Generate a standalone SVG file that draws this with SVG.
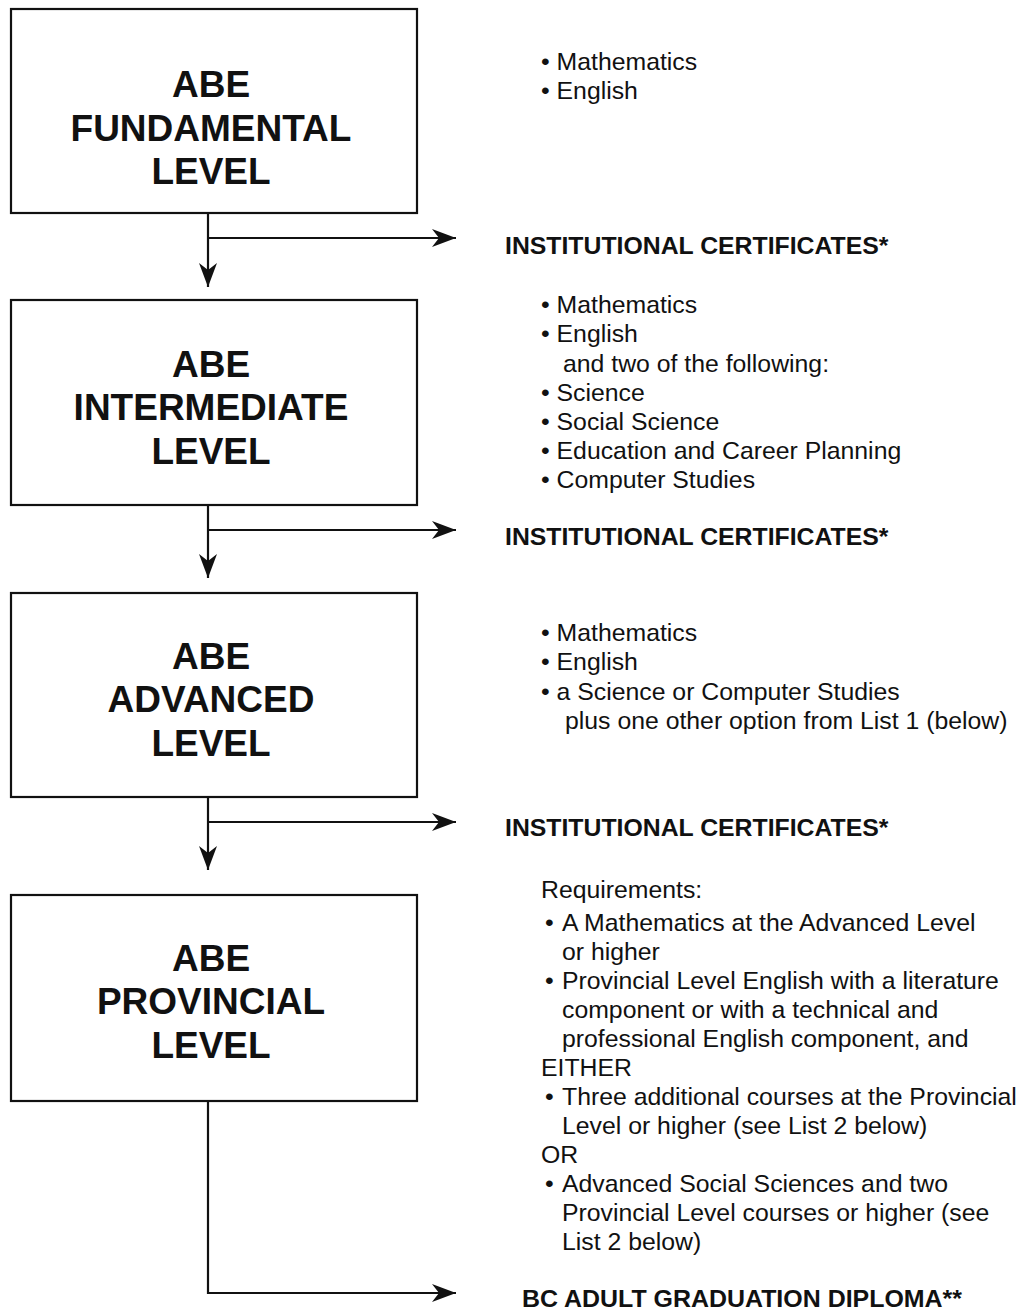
<svg xmlns="http://www.w3.org/2000/svg" width="1019" height="1312" viewBox="0 0 1019 1312">
<style>
.box{fill:#fff;stroke:#111;stroke-width:2.2}
.title{font-family:"Liberation Sans",Arial,sans-serif;font-weight:bold;font-size:37px;fill:#111;text-anchor:middle}
.item{font-family:"Liberation Sans",Arial,sans-serif;font-size:24.8px;fill:#111}
.cert{font-family:"Liberation Sans",Arial,sans-serif;font-weight:bold;font-size:24.8px;fill:#111}
.line{fill:none;stroke:#111;stroke-width:2.2}
</style>
<defs>
<marker id="ah" markerUnits="userSpaceOnUse" markerWidth="26" markerHeight="20" refX="24" refY="9" orient="auto">
<path d="M0,0 L24,9 L0,18 L7,9 z" fill="#111"/>
</marker>
</defs>
<rect width="1019" height="1312" fill="#fff"/>
<g id="connectors">
<path class="line" d="M208,213 V287" marker-end="url(#ah)"/>
<path class="line" d="M208,238 H456" marker-end="url(#ah)"/>
<path class="line" d="M208,505 V578" marker-end="url(#ah)"/>
<path class="line" d="M208,530 H456" marker-end="url(#ah)"/>
<path class="line" d="M208,797 V870" marker-end="url(#ah)"/>
<path class="line" d="M208,822 H456" marker-end="url(#ah)"/>
<path class="line" d="M208,1101 V1293 H456" marker-end="url(#ah)"/>
</g>
<g id="fundamental">
<rect class="box" x="11" y="9" width="406" height="204"/>
<text class="title" x="211" y="97">ABE</text>
<text class="title" x="211" y="141">FUNDAMENTAL</text>
<text class="title" x="211" y="184">LEVEL</text>
</g>
<g id="intermediate">
<rect class="box" x="11" y="300" width="406" height="205"/>
<text class="title" x="211" y="377">ABE</text>
<text class="title" x="211" y="420">INTERMEDIATE</text>
<text class="title" x="211" y="464">LEVEL</text>
</g>
<g id="advanced">
<rect class="box" x="11" y="593" width="406" height="204"/>
<text class="title" x="211" y="669">ABE</text>
<text class="title" x="211" y="712">ADVANCED</text>
<text class="title" x="211" y="756">LEVEL</text>
</g>
<g id="provincial">
<rect class="box" x="11" y="895" width="406" height="206"/>
<text class="title" x="211" y="971">ABE</text>
<text class="title" x="211" y="1014">PROVINCIAL</text>
<text class="title" x="211" y="1058">LEVEL</text>
</g>
<g id="fundamental-courses" class="item">
<text x="541" y="70">• Mathematics</text>
<text x="541" y="99">• English</text>
</g>
<g id="cert1"><text class="cert" x="505" y="254">INSTITUTIONAL CERTIFICATES*</text></g>
<g id="intermediate-courses" class="item">
<text x="541" y="313">• Mathematics</text>
<text x="541" y="342">• English</text>
<text x="563" y="372">and two of the following:</text>
<text x="541" y="401">• Science</text>
<text x="541" y="430">• Social Science</text>
<text x="541" y="459">• Education and Career Planning</text>
<text x="541" y="488">• Computer Studies</text>
</g>
<g id="cert2"><text class="cert" x="505" y="545">INSTITUTIONAL CERTIFICATES*</text></g>
<g id="advanced-courses" class="item">
<text x="541" y="641">• Mathematics</text>
<text x="541" y="670">• English</text>
<text x="541" y="700">• a Science or Computer Studies</text>
<text x="565" y="729">plus one other option from List 1 (below)</text>
</g>
<g id="cert3"><text class="cert" x="505" y="836">INSTITUTIONAL CERTIFICATES*</text></g>
<g id="provincial-requirements" class="item">
<text x="541" y="898">Requirements:</text>
<text x="545" y="931">•</text><text x="562" y="931">A Mathematics at the Advanced Level</text>
<text x="562" y="960">or higher</text>
<text x="545" y="989">•</text><text x="562" y="989">Provincial Level English with a literature</text>
<text x="562" y="1018">component or with a technical and</text>
<text x="562" y="1047">professional English component, and</text>
<text x="541" y="1076">EITHER</text>
<text x="545" y="1105">•</text><text x="562" y="1105">Three additional courses at the Provincial</text>
<text x="562" y="1134">Level or higher (see List 2 below)</text>
<text x="541" y="1163">OR</text>
<text x="545" y="1192">•</text><text x="562" y="1192">Advanced Social Sciences and two</text>
<text x="562" y="1221">Provincial Level courses or higher (see</text>
<text x="562" y="1250">List 2 below)</text>
</g>
<g id="diploma"><text class="cert" x="522" y="1307" font-size="27" textLength="440" lengthAdjust="spacingAndGlyphs">BC ADULT GRADUATION DIPLOMA**</text></g>
</svg>
